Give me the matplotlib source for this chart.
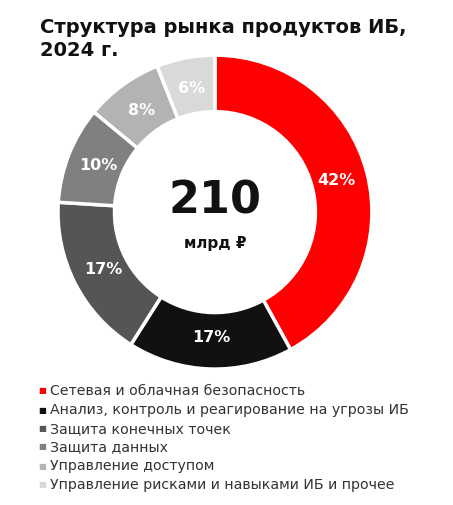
import matplotlib
matplotlib.use("Agg")
import matplotlib.pyplot as plt

categories = ["Сетевая и облачная безопасность",
              "Анализ, контроль и реагирование на угрозы ИБ",
              "Защита конечных точек",
              "Защита данных",
              "Управление доступом",
              "Управление рисками и навыками ИБ и прочее"]
values = [42, 17, 17, 10, 8, 6]
colors = ["#FF0000", "#111111", "#555555", "#808080", "#B3B3B3", "#D9D9D9"]

fig = plt.figure(figsize=(4.53, 5.05), dpi=100)
fig.text(0.088, 0.965, "Структура рынка продуктов ИБ,\n2024 г.", fontsize=14,
         fontweight="bold", va="top", ha="left", linespacing=1.3, color="#111111")

ax = fig.add_axes([0.128, 0.269, 0.693, 0.622])
wedges, texts = ax.pie(values, colors=colors, startangle=90, counterclock=False,
                       radius=1.0, labels=[f"{v}%" for v in values], labeldistance=0.8,
                       wedgeprops=dict(width=0.36, edgecolor="white", linewidth=2.5),
                       textprops=dict(color="white", fontsize=11.5, fontweight="bold"))
for t in texts:
    t.set_ha("center"); t.set_va("center")
ax.set_xlim(-1.0, 1.0)
ax.set_ylim(-1.0, 1.0)
ax.set_aspect("equal")
ax.text(0, 0.07, "210", ha="center", va="center", fontsize=32, fontweight="bold", color="#111111")
ax.text(0, -0.2, "млрд ₽", ha="center", va="center", fontsize=11, fontweight="bold", color="#111111")

ys = [391, 410, 429, 447, 466, 485]
for c, lab, y in zip(colors, categories, ys):
    fig.text(38/453, 1 - y/505, "■", color=c, fontsize=6, va="center", ha="left")
    fig.text(50/453, 1 - y/505, lab, color="#333333", fontsize=10.2, va="center", ha="left")

fig.savefig("out.png", dpi=100)
